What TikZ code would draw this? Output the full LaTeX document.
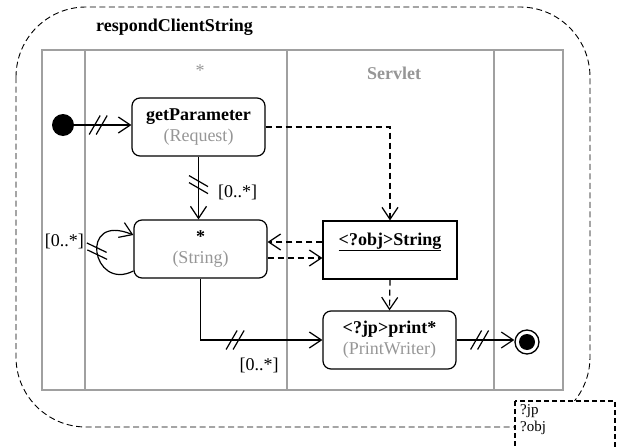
\documentclass[tikz,border=0pt]{standalone}
\usepackage{fontspec}
\setmainfont{Liberation Serif}
\usetikzlibrary{arrows.meta,decorations.markings,calc}
\definecolor{lanegray}{RGB}{160,160,160}
\definecolor{txtgray}{RGB}{150,150,150}
\begin{document}
\begin{tikzpicture}[x=1pt,y=1pt,
  every node/.style={font=\fontsize{18}{21}\selectfont, inner sep=0pt},
  lane/.style={draw=lanegray, line width=1.3pt},
  action/.style={draw, rounded corners=8pt, line width=1.2pt,
    minimum width=133pt, minimum height=58pt, align=center},
  objbox/.style={draw, line width=1.2pt, minimum width=134pt, minimum height=58pt},
  flow/.style={line width=1.2pt, -{Straight Barb[length=12pt,width=16pt]}},
  dep/.style={flow, dash pattern=on 6pt off 4pt},
  multi/.style={postaction={decorate, decoration={markings,
    mark=at position #1 with {\draw[-, solid, line width=1.2pt]
      (-9,-9.5) -- (2,9.5) (-2,-9.5) -- (9,9.5);}}}},
  lbl/.style={font=\fontsize{18}{21}\selectfont},
]
\useasboundingbox (0,0) rectangle (619,-447);

% enclosing activity frame
\draw[dash pattern=on 6pt off 3.5pt, line width=0.9pt, rounded corners=70pt]
  (16,-7) rectangle (590,-427);
\node[anchor=west, font=\fontsize{18}{21}\selectfont\bfseries] (title) at (96,-27) {respondClientString};

% swimlanes
\draw[lane] (42,-50) rectangle (563,-390);
\draw[lane] (85,-50) -- (85,-390);
\draw[lane] (287,-50) -- (287,-390);
\draw[lane] (494,-50) -- (494,-390);
\node[text=txtgray] (hstar) at (200,-71) {*};
\node[text=txtgray, font=\fontsize{18}{21}\selectfont\bfseries] (hservlet) at (394,-73) {Servlet};

% nodes
\node[circle, fill=black, minimum size=22pt] (init) at (63,-125) {};
\node[action] (gp) at (198.5,-127) {\textbf{getParameter}\\\textcolor{txtgray}{(Request)}};
\node[action] (str) at (200.5,-249) {\textbf{*}\\\textcolor{txtgray}{(String)}};
\node[objbox] (obj) at (390,-250) {};
\node[font=\fontsize{18}{21}\selectfont\bfseries] (objname) at ([yshift=8pt]obj.center) {\underline{<?obj>String}};
\node[action] (pw) at (389.5,-340) {\textbf{<?jp>print*}\\\textcolor{txtgray}{(PrintWriter)}};
\node[circle, draw, line width=1.3pt, minimum size=24pt] (final) at (527,-342) {};
\node[circle, fill=black, minimum size=16pt] (finaldot) at (final) {};

% control flows
\draw[flow, multi=24pt] (init.east) -- (init.east -| gp.west);
\draw[flow, multi=28pt] (gp.south) -- (gp.south |- str.north);
\node[lbl, anchor=west] (m1) at (218,-192) {[0..*]};
\draw[flow, multi=0.5] ([yshift=-22pt]str.west) .. controls (92,-292) and (78,-212) .. ([yshift=14pt]str.west);
\node[lbl, anchor=east] (m2) at (84,-241) {[0..*]};
\draw[flow, multi=96pt] (str.south) |- (pw.west);
\node[lbl] (m3) at (259,-365) {[0..*]};
\draw[flow, multi=23pt] (pw.east) -- (pw.east -| final.west);

% object flows
\draw[dep] (gp.east) -| (obj.north);
\draw[dep] ([yshift=8pt]obj.west) -- ([yshift=8pt]obj.west -| str.east);
\draw[dep] ([yshift=-8pt]obj.west -| str.east) -- ([yshift=-8pt]obj.west);
\draw[dep] (obj.south) -- (pw.north);

% parameter note
\draw[fill=white, dash pattern=on 5pt off 3pt, line width=1.8pt] (515,-401) rectangle (615,-470);
\node[anchor=north west, align=left, font=\fontsize{15}{17}\selectfont] (note) at (520,-404) {?jp\\?obj};
\end{tikzpicture}
\end{document}
